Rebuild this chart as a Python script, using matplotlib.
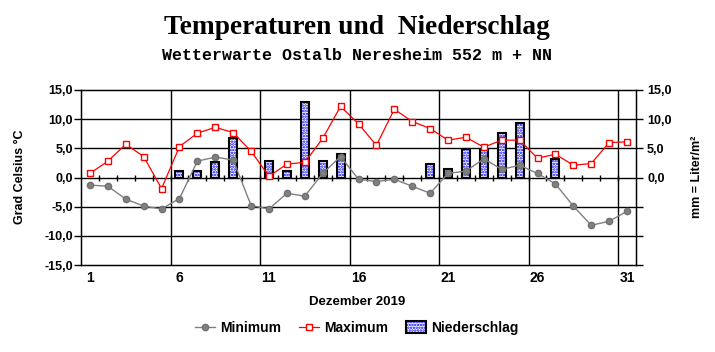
import matplotlib
matplotlib.use("Agg")
import matplotlib.pyplot as plt
import numpy as np
from matplotlib.lines import Line2D
from matplotlib.patches import Patch
from matplotlib.legend_handler import HandlerTuple

days = list(range(1, 32))
t_min = [-1.3, -1.5, -3.7, -4.9, -5.4, -3.6, 2.8, 3.5, 3.0, -4.8, -5.4,
         -2.7, -3.2, 0.7, 3.6, -0.3, -0.7, -0.3, -1.5, -2.7, 0.7,
         1.1, 3.2, 1.4, 2.1, 0.7, -1.1, -4.9, -8.2, -7.5, -5.8]
t_max = [0.7, 2.8, 5.7, 3.6, -1.9, 5.3, 7.6, 8.6, 7.7, 4.5, 0.2,
         2.3, 2.6, 6.7, 12.2, 9.2, 5.5, 11.7, 9.6, 8.4, 6.4,
         6.9, 5.2, 6.4, 6.4, 3.3, 4.0, 2.1, 2.4, 6.0, 6.1]
precip = [0, 0, 0, 0, 0, 1.1, 1.1, 2.7, 6.7, 0, 2.9,
          1.1, 13.0, 2.9, 4.1, 0, 0, 0, 0, 2.4, 1.4,
          4.9, 4.7, 7.7, 9.4, 0, 3.1, 0, 0, 0, 0]
xtick_days = [1, 6, 11, 16, 21, 26, 31]
left_ticks = [15, 10, 5, 0, -5, -10, -15]
right_labels = [15, 10, 5, 0]

W, H = 715, 352
fig = plt.figure(figsize=(W / 100, H / 100), dpi=100)
ax = fig.add_axes([81 / W, 1 - 265 / H, (636 - 81) / W, (265 - 90) / H])

sans = "Liberation Sans"
plt.rcParams["hatch.linewidth"] = 1.2

# Grid
for y in [-10, -5, 0, 5, 10]:
    ax.axhline(y, color="black", lw=1.0, zorder=1)
for x in [5.5, 10.5, 15.5, 20.5, 25.5, 30.5]:
    ax.axvline(x, color="black", lw=1.0, zorder=1)
# small day ticks on zero line
bx = np.array(days[:-1]) + 0.5
ax.plot(bx, np.zeros_like(bx), ls="none", marker="|", ms=5, mew=1.0,
        color="black", zorder=2)

# Precipitation bars
pd_x = [d for d, p in zip(days, precip) if p > 0]
pd_v = [p for p in precip if p > 0]
ax.bar(pd_x, pd_v, width=0.45, color="white", edgecolor="#0000ff",
       hatch="......", lw=0, zorder=3)
ax.bar(pd_x, pd_v, width=0.45, fill=False, edgecolor="black", lw=1.5, zorder=4)

# Lines
ax.plot(days, t_min, color="#808080", lw=1.0, marker="o", ms=4.5,
        mfc="#808080", mec="#707070", zorder=5)
ax.plot(days, t_max, color="red", lw=0.9, marker="s", ms=5,
        mfc="white", mec="red", mew=1.0, zorder=6)

ax.set_xlim(0.5, 31.5)
ax.set_ylim(-15, 15)
ax.set_xticks(xtick_days)
ax.set_xticklabels([str(d) for d in xtick_days], fontfamily=sans,
                   fontweight="bold", fontsize=10)
ax.tick_params(axis="x", length=0, pad=4)
ax.set_yticks(left_ticks)
ax.set_yticklabels([f"{v:.1f}".replace(".", ",") for v in left_ticks],
                   fontfamily=sans, fontweight="bold", fontsize=9)
ax.tick_params(axis="y", length=5, width=1, pad=1)
for s in ax.spines.values():
    s.set_linewidth(1.0)

ax2 = ax.twinx()
ax2.set_ylim(-15, 15)
ax2.set_yticks(left_ticks)
ax2.set_yticklabels([f"{v:.1f}".replace(".", ",") if v in right_labels else ""
                     for v in left_ticks],
                    fontfamily=sans, fontweight="bold", fontsize=9)
ax2.tick_params(axis="y", length=5, width=1, pad=3)

# Texts
fig.text(357 / W, 1 - 27 / H, "Temperaturen und  Niederschlag",
         ha="center", va="center", fontfamily="Liberation Serif",
         fontweight="bold", fontsize=19.7)
fig.text(357 / W, 1 - 55 / H, "Wetterwarte Ostalb Neresheim 552 m + NN",
         ha="center", va="center", fontfamily="Liberation Mono",
         fontweight="bold", fontsize=12)
fig.text(20 / W, 1 - 177 / H, "Grad Celsius °C", rotation=90,
         ha="center", va="center", fontfamily=sans, fontweight="bold",
         fontsize=9)
fig.text(697 / W, 1 - 177 / H, "mm = Liter/m²", rotation=90,
         ha="center", va="center", fontfamily=sans, fontweight="bold",
         fontsize=9)
fig.text(357 / W, 1 - 302 / H, "Dezember 2019", ha="center", va="center",
         fontfamily=sans, fontweight="bold", fontsize=9.5)

handles = [
    Line2D([], [], color="#808080", lw=1.0, marker="o", ms=4.5,
           mfc="#808080", mec="#707070"),
    Line2D([], [], color="red", lw=0.9, marker="s", ms=5, mfc="white",
           mec="red"),
    (Patch(facecolor="white", edgecolor="#0000ff", hatch="......", lw=0),
     Patch(fill=False, edgecolor="black", lw=1.5)),
]
leg = fig.legend(handles, ["Minimum", "Maximum", "Niederschlag"],
                 loc="center", bbox_to_anchor=(357 / W, 1 - 328 / H),
                 ncol=3, frameon=False, handlelength=1.4, handleheight=0.9,
                 handletextpad=0.4, columnspacing=1.3,
                 handler_map={tuple: HandlerTuple(ndivide=1, pad=0)},
                 prop={"family": sans, "weight": "bold", "size": 10})

fig.savefig("out.png", dpi=100)
